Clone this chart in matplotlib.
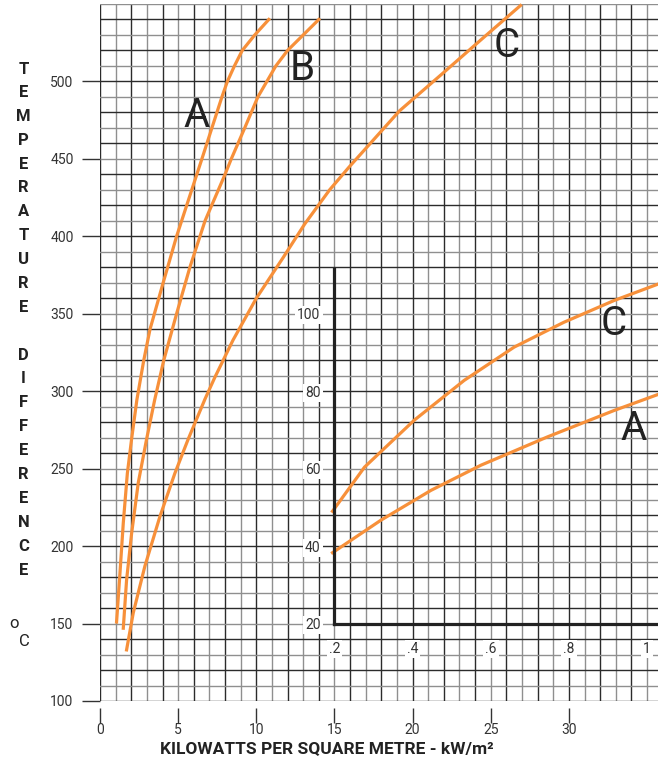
import numpy as np
import matplotlib
matplotlib.use('Agg')
import matplotlib.pyplot as plt

plt.rcParams['font.family'] = ['Roboto', 'DejaVu Sans']
ORANGE = '#F7903A'
INK = '#222222'

# main chart: heat flux (kW/m2) against temperature difference (C)
a_kw = [1.06, 1.28, 1.49, 1.75, 2.02, 2.36, 2.8, 3.2, 4.04, 4.9, 5.87, 6.52, 7.16,
        7.8, 8.15, 8.6, 9.1, 9.9, 10.8]
a_temp = [151, 183, 215, 247, 269, 294.5, 320, 340, 370, 400, 430, 450, 470,
          490, 500, 510, 520, 530, 540]

b_kw = [1.49, 1.70, 2.02, 2.45, 2.98, 3.5, 4.08, 4.9, 5.75, 6.72, 8.0, 8.4, 9.26,
        10.1, 11.25, 12.0, 13.0, 14.0]
b_temp = [147, 178, 208, 241, 269, 294.5, 320, 350, 380, 410, 440, 450, 470,
          490, 510, 520, 530, 540]

c_kw = [1.70, 2.13, 2.87, 3.83, 4.79, 5.64, 6.72, 7.35, 8.51, 10.0, 11.7, 13.1,
        14.69, 15.96, 19.16, 21.9, 24.5, 26.9]
c_temp = [133, 157, 187, 219, 247, 269, 295, 309, 333, 360, 386, 408,
          430, 445, 481, 505, 528, 549]

# inset: low range
ic_kw = [0.195, 0.277, 0.404, 0.532, 0.66, 0.787, 0.915, 1.029]
ic_temp = [49, 60.4, 72.5, 82.8, 91.4, 97.8, 103.4, 107.7]
ia_kw = [0.195, 0.319, 0.447, 0.575, 0.745, 0.915, 1.029]
ia_temp = [38.3, 46.7, 54.4, 60.9, 68.2, 75, 79.2]

x_ticks = [0, 5, 10, 15, 20, 25, 30]
y_ticks = [100, 150, 200, 250, 300, 350, 400, 450, 500]
inset_x_ticks = [0.2, 0.4, 0.6, 0.8, 1.0]
inset_x_labels = ['.2', '.4', '.6', '.8', '1']
inset_y_ticks = [20, 40, 60, 80, 100]

XMAX = 35.7
fig = plt.figure(figsize=(6.58, 7.65), dpi=100)
L, B = 100 / 658, 64 / 765
W, H = 1 - L, (761 - 64) / 765
ax = fig.add_axes([L, B, W, H])
ax.set_xlim(0, XMAX)
ax.set_ylim(100, 550)

# graph paper: lines alternate dark / grey like the printed sheet
for i, gx in enumerate(range(0, 36)):
    ax.axvline(gx, color='#2b2b2b' if i % 2 == 0 else '#8f8f8f', lw=1.0, zorder=0)
for i, gy in enumerate(range(100, 551, 10)):
    ax.axhline(gy, color='#2b2b2b' if i % 2 == 0 else '#8f8f8f', lw=1.0, zorder=0)

ax.set_xticks(x_ticks)
ax.set_yticks(y_ticks)
ax.tick_params(axis='y', length=13, width=1, color='#333333',
               pad=6, labelsize=10, labelcolor='#333333')
ax.tick_params(axis='x', length=11, width=1, color='#333333',
               pad=0, labelsize=10, labelcolor='#333333')
for s in ['top', 'right', 'left']:
    ax.spines[s].set_visible(False)
ax.spines['bottom'].set_position(('outward', 5))
ax.spines['bottom'].set_visible(False)

ax.plot(a_kw, a_temp, color=ORANGE, lw=2.3, solid_joinstyle='round')
ax.plot(b_kw, b_temp, color=ORANGE, lw=2.3, solid_joinstyle='round')
ax.plot(c_kw, c_temp, color=ORANGE, lw=2.3, solid_joinstyle='round', clip_on=False)

for lab, xx, yy in [('A', 6.2, 470.6), ('B', 12.93, 500.9), ('C', 26.0, 516)]:
    ax.text(xx, yy, lab, fontsize=29, color=INK, ha='center', va='baseline')

fig.text(327 / 658, 1 - 749 / 765, 'KILOWATTS PER SQUARE METRE - kW/m²',
         fontsize=12.5, fontweight='bold', color=INK, ha='center', va='center')

# inset axes lined up so that (0.2, 20) sits on (15, 150)
ax2 = fig.add_axes([L + W * 15 / XMAX, B + H * 50 / 450,
                    W * (XMAX - 15) / XMAX, H * 400 / 450])
ax2.set_xlim(0.2, 0.2 + 0.04 * (XMAX - 15))
ax2.set_ylim(20, 180)
ax2.patch.set_visible(False)
for s in ['top', 'right']:
    ax2.spines[s].set_visible(False)
for s in ['left', 'bottom']:
    ax2.spines[s].set_linewidth(2.3)
    ax2.spines[s].set_color(INK)
ax2.spines['left'].set_bounds(20, 111.6)
ax2.set_xticks(inset_x_ticks)
ax2.set_xticklabels(inset_x_labels)
ax2.set_yticks(inset_y_ticks)
ax2.tick_params(axis='x', length=0, pad=13, labelsize=10, labelcolor='#333333')
ax2.tick_params(axis='y', length=0, pad=10, labelsize=10, labelcolor='#333333')
for t in ax2.get_xticklabels() + ax2.get_yticklabels():
    t.set_bbox(dict(facecolor='white', edgecolor='none', pad=1.5))

ax2.plot(ic_kw, ic_temp, color=ORANGE, lw=2.3, clip_on=False)
ax2.plot(ia_kw, ia_temp, color=ORANGE, lw=2.3, clip_on=False)
ax2.text(0.914, 94.4, 'C', fontsize=29, color=INK, ha='center', va='baseline')
ax2.text(0.966, 67.3, 'A', fontsize=29, color=INK, ha='center', va='baseline')

# stacked y label
for i, ch in enumerate('TEMPERATURE'):
    fig.text(23.5 / 658, 1 - (69 + i * 23.8) / 765, ch, fontsize=12,
             fontweight='bold', color=INK, ha='center', va='center')
for i, ch in enumerate('DIFFERENCE'):
    fig.text(23.5 / 658, 1 - (355 + i * 23.9) / 765, ch, fontsize=12,
             fontweight='bold', color=INK, ha='center', va='center')
fig.text(14 / 658, 1 - 624 / 765, 'o', fontsize=12,
         color=INK, ha='center', va='center')
fig.text(24 / 658, 1 - 641 / 765, 'C', fontsize=12,
         color=INK, ha='center', va='center')

fig.savefig('out.png', dpi=100)
